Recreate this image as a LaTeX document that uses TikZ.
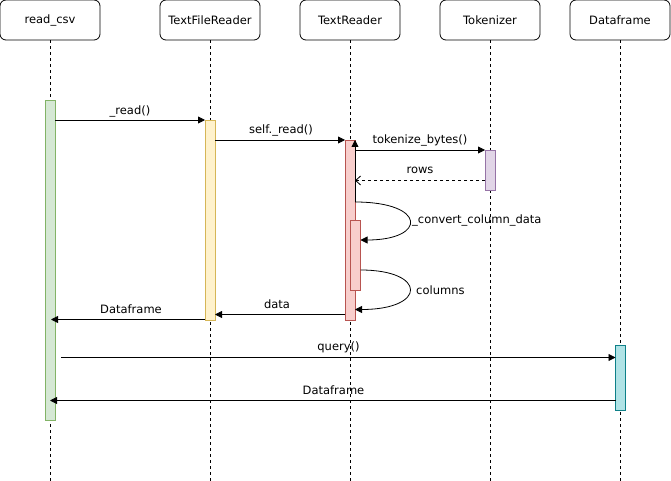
\documentclass[tikz,border=0pt]{standalone}
\usepackage{fontspec}
\setmainfont{DejaVu Sans}
\usetikzlibrary{arrows.meta}
\definecolor{gfill}{HTML}{D5E8D4}\definecolor{gdraw}{HTML}{82B366}
\definecolor{yfill}{HTML}{FFF2CC}\definecolor{ydraw}{HTML}{D6B656}
\definecolor{rfill}{HTML}{F8CECC}\definecolor{rdraw}{HTML}{B85450}
\definecolor{pfill}{HTML}{E1D5E7}\definecolor{pdraw}{HTML}{9673A6}
\definecolor{cfill}{HTML}{B0E3E6}\definecolor{cdraw}{HTML}{0E8088}
\tikzset{
  head/.style={draw, rounded corners=6pt, line width=0.8pt, minimum width=100pt, minimum height=40pt, inner sep=0pt, font=\fontsize{11.5}{13}\selectfont},
  life/.style={line width=0.7pt, dash pattern=on 3pt off 3pt},
  act/.style={draw, line width=0.8pt, minimum width=10pt, inner sep=0pt, outer sep=0pt},
  msg/.style={line width=0.8pt, -{Triangle[length=7pt,width=7pt]}},
  ret/.style={line width=0.8pt, dash pattern=on 3pt off 3pt, -{Straight Barb[length=5pt,width=9pt]}},
  lbl/.style={font=\fontsize{11.5}{13}\selectfont, inner sep=0pt}
}
\begin{document}
\begin{tikzpicture}[x=1pt,y=-1pt]
\useasboundingbox (0,0) rectangle (671,481);
% headers
\node[head] (h1) at (50,20) {read\_csv};
\node[head] (h2) at (210,20) {TextFileReader};
\node[head] (h3) at (350,20) {TextReader};
\node[head] (h4) at (490,20) {Tokenizer};
\node[head] (h5) at (620,20) {Dataframe};
% lifelines
\coordinate (e1) at (50,481);
\coordinate (e2) at (210,481);
\coordinate (e3) at (350,481);
\coordinate (e4) at (490,481);
\coordinate (e5) at (620,481);
\foreach \i in {1,...,5} \draw[life] (h\i.south) -- (e\i);
% activations
\node[act, fill=gfill, draw=gdraw, minimum height=320pt] (a1) at (50,260) {};
\node[act, fill=yfill, draw=ydraw, minimum height=200pt] (a2) at (210,220) {};
\node[act, fill=rfill, draw=rdraw, minimum height=180pt] (a3) at (350,230) {};
\node[act, fill=rfill, draw=rdraw, minimum height=70pt] (a3b) at (355.5,255) {};
\node[act, fill=pfill, draw=pdraw, minimum height=40pt] (a4) at (490,170) {};
\node[act, fill=cfill, draw=cdraw, minimum height=65pt] (a5) at (620.5,377.5) {};
% messages
\draw[msg] (a1.east |- 0,120) -- (a2.west |- 0,120);
\node[lbl] (l1) at (130,111) {\_read()};
\draw[msg] (a2.east |- 0,140) -- (a3.west |- 0,140);
\node[lbl] (l2) at (281,130.5) {self.\_read()};
\draw[msg] (a3.east |- 0,202) -- (a3.east |- 0,140);
\draw[msg] (a3.east |- 0,150) -- (a4.west |- 0,150);
\node[lbl] (l3) at (420,140.5) {tokenize\_bytes()};
\draw[ret] (a4.west |- 0,180.5) -- (a3.east |- 0,180.5);
\node[lbl] (l4) at (420,170.5) {rows};
\draw[msg] (a3.east |- 0,202) .. controls (427,202) and (427,240) .. (a3b.east |- 0,240);
\node[lbl, anchor=west] (l5) at (412,220.5) {\_convert\_column\_data};
\draw[msg] (a3b.east |- 0,270) .. controls (427,270) and (427,309.5) .. (a3.east |- 0,309.5);
\node[lbl, anchor=west] (l6) at (416,290.5) {columns};
\draw[msg] (a3.west |- 0,314.5) -- (a2.east |- 0,314.5);
\node[lbl] (l7) at (277,304) {data};
\coordinate (r1) at (51,319.5);
\draw[msg] (a2.west |- r1) -- (r1);
\node[lbl] (l8) at (131,309.5) {Dataframe};
\coordinate (q0) at (61,357.5);
\draw[msg] (q0) -- (a5.west |- q0);
\node[lbl] (l9) at (338.5,347) {query()};
\draw[msg] (a5.west |- 0,400.5) -- (a1.center |- 0,400.5);
\node[lbl] (l10) at (333.5,390) {Dataframe};
\end{tikzpicture}
\end{document}
